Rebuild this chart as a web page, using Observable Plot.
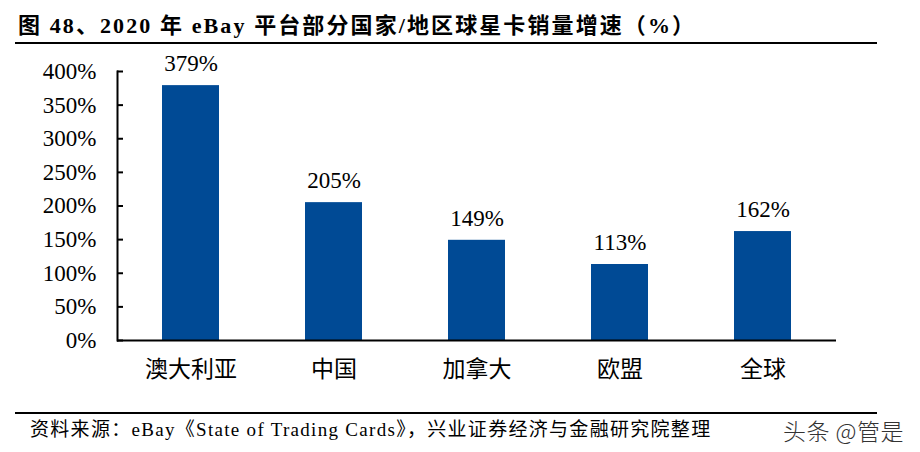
<!DOCTYPE html>
<html>
<head>
<meta charset="utf-8">
<script src="https://cdn.jsdelivr.net/npm/d3@7"></script>
<script src="https://cdn.jsdelivr.net/npm/@observablehq/plot@0.6"></script>
<style>
  body { margin:0; background:#fff; width:920px; height:452px; overflow:hidden;
         font-family:"Liberation Serif","Noto Sans CJK SC",serif; color:#000; }
  #title { position:relative; height:50px; }
  #title .t { position:absolute; left:18px; top:13px; font-size:22px; font-weight:bold; white-space:nowrap; letter-spacing:2.1px; line-height:1.2; }
  #title .rule { position:absolute; left:15px; width:862px; top:42px; border-top:2px solid #000; }
  #chart { height:350px; }
  #foot { position:relative; height:52px; }
  #foot .rule { position:absolute; left:15px; width:862px; top:12px; border-top:2px solid #000; }
  #foot .src { position:absolute; left:30px; top:19px; font-size:19px; white-space:nowrap; letter-spacing:1.3px; line-height:1.2; }
  #foot .wm { position:absolute; left:783px; top:17px; font-size:23px; white-space:nowrap; color:#333; letter-spacing:0.5px;
              font-family:"Noto Sans CJK SC",sans-serif; font-weight:300; line-height:1.2; }
</style>
</head>
<body>
<div id="title"><div class="t">图 48、2020 年 eBay 平台部分国家/地区球星卡销量增速（%）</div><div class="rule"></div></div>
<div id="chart"></div>
<div id="foot"><div class="rule"></div><div class="src">资料来源：eBay《State of Trading Cards》，兴业证券经济与金融研究院整理</div><div class="wm">头条 @管是</div></div>
<script>
const categories = ["澳大利亚", "中国", "加拿大", "欧盟", "全球"];
const growth = [379, 205, 149, 113, 162];
const yTicks = [0, 50, 100, 150, 200, 250, 300, 350, 400];
const barColor = "#004a95";

const data = categories.map((c, i) => ({category: c, value: growth[i]}));

const chart = Plot.plot({
  width: 920,
  height: 350,
  marginTop: 21,
  marginBottom: 60,
  marginLeft: 117,
  marginRight: 84,
  style: {fontFamily: '"Liberation Serif","Noto Sans CJK SC",serif', fontSize: "23px", color: "#000", background: "#fff"},
  x: {domain: categories, paddingInner: 0.6, paddingOuter: 0.3, label: null},
  y: {domain: [0, 400], label: null},
  marks: [
    Plot.barY(data, {x: "category", y: "value", fill: barColor}),
    Plot.axisY({ticks: yTicks, tickSize: 0, tickPadding: 21, tickFormat: d => d + "%", fontSize: 23, label: null}),
    Plot.axisY({ticks: yTicks, tickSize: -6, text: null, strokeWidth: 2, label: null}),
    Plot.axisX({tickSize: 0, tickPadding: 20, fontSize: 23, label: null}),
    Plot.frame({anchor: "left", stroke: "#000", strokeWidth: 2}),
    Plot.ruleY([0], {stroke: "#000", strokeWidth: 2}),
    Plot.text(data, {x: "category", y: "value", text: d => d.value + "%", dy: -22, fontSize: 23, fill: "#000"})
  ]
});
document.getElementById("chart").appendChild(chart);
</script>
</body>
</html>
